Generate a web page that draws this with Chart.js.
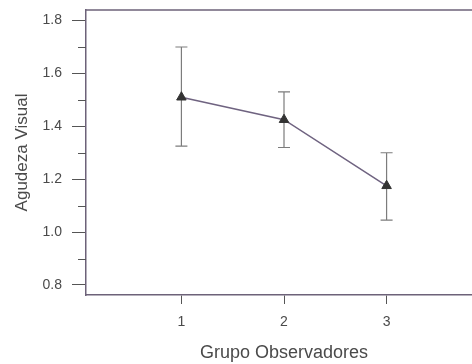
<!DOCTYPE html>
<html>
<head>
<meta charset="utf-8">
<script src="https://cdn.jsdelivr.net/npm/chart.js@4.4.1/dist/chart.umd.min.js"></script>
<style>
  html, body { margin: 0; background: #fff; overflow: hidden; }
  /* o gráfico original continua um pouco além da margem direita */
  #chart { display: block; }
</style>
</head>
<body>
<canvas id="chart" width="482" height="364"></canvas>
<script>
// dados
const grupos = [1, 2, 3];
const media = [1.51, 1.425, 1.175];
const erroSup = [1.70, 1.53, 1.30];
const erroInf = [1.325, 1.32, 1.045];
const xTicks = [1, 2, 3];
const yTicks = [0.8, 1.0, 1.2, 1.4, 1.6, 1.8];
const yMinor = [0.9, 1.1, 1.3, 1.5, 1.7];

const corEixo = '#6d6279';
const corTexto = '#4a4a4a';
const fonte = '"Liberation Sans", Arial, sans-serif';

// barras de erro desenhadas atrás dos marcadores
const barrasErro = {
  id: 'barrasErro',
  beforeDatasetsDraw(chart) {
    const { ctx, scales: { x, y } } = chart;
    ctx.save();
    ctx.strokeStyle = '#7c7c7c';
    ctx.lineWidth = 1.2;
    grupos.forEach((g, i) => {
      const px = x.getPixelForValue(g);
      const top = y.getPixelForValue(erroSup[i]);
      const bot = y.getPixelForValue(erroInf[i]);
      ctx.beginPath();
      ctx.moveTo(px, top); ctx.lineTo(px, bot);
      ctx.moveTo(px - 6, top); ctx.lineTo(px + 6, top);
      ctx.moveTo(px - 6, bot); ctx.lineTo(px + 6, bot);
      ctx.stroke();
    });
    ctx.restore();
  }
};

// linha superior e ticks menores do eixo y
const moldura = {
  id: 'moldura',
  afterDraw(chart) {
    const { ctx, chartArea: a, scales: { y } } = chart;
    ctx.save();
    ctx.strokeStyle = corEixo;
    ctx.lineWidth = 1.5;
    ctx.beginPath();
    ctx.moveTo(a.left, a.top);
    ctx.lineTo(a.right, a.top);
    ctx.stroke();
    ctx.strokeStyle = '#555';
    ctx.lineWidth = 1;
    yMinor.forEach(v => {
      const py = Math.round(y.getPixelForValue(v)) + 0.5;
      ctx.beginPath();
      ctx.moveTo(a.left - 8, py);
      ctx.lineTo(a.left, py);
      ctx.stroke();
    });
    ctx.restore();
  }
};

const ctx = document.getElementById('chart').getContext('2d');
new Chart(ctx, {
  type: 'line',
  data: {
    datasets: [{
      data: grupos.map((g, i) => ({ x: g, y: media[i] })),
      borderColor: '#6f6380',
      borderWidth: 1.5,
      pointStyle: 'triangle',
      pointRadius: 5.5,
      pointBackgroundColor: '#333',
      pointBorderColor: '#333',
      pointBorderWidth: 1
    }]
  },
  options: {
    responsive: false,
    animation: false,
    layout: { autoPadding: false, padding: { top: 10, right: 0, left: 0, bottom: 0 } },
    plugins: {
      legend: { display: false },
      tooltip: { enabled: false }
    },
    scales: {
      x: {
        type: 'linear',
        min: 0.07,
        max: 3.93,
        afterBuildTicks: s => { s.ticks = xTicks.map(v => ({ value: v })); },
        afterFit: s => { s.height = 69; s.paddingLeft = 0; s.paddingRight = 0; },
        grid: { drawOnChartArea: false, tickLength: 9, tickColor: '#555' },
        border: { color: corEixo, width: 1.5 },
        ticks: { color: corTexto, padding: 10, font: { family: fonte, size: 14 } },
        title: {
          display: true,
          text: 'Grupo Observadores',
          color: corTexto,
          padding: { top: 0, bottom: 0 },
          font: { family: fonte, size: 18 }
        }
      },
      y: {
        min: 0.762,
        max: 1.84,
        afterBuildTicks: s => { s.ticks = yTicks.map(v => ({ value: v })); },
        afterFit: s => { s.width = 86; s.paddingTop = 0; s.paddingBottom = 0; },
        grid: { drawOnChartArea: false, tickLength: 14, tickColor: '#555' },
        border: { color: corEixo, width: 1.5 },
        ticks: {
          color: corTexto,
          padding: 10,
          font: { family: fonte, size: 14 },
          callback: v => v.toFixed(1)
        },
        title: {
          display: true,
          text: 'Agudeza Visual',
          color: corTexto,
          padding: { top: 12, bottom: 0 },
          font: { family: fonte, size: 17 }
        }
      }
    }
  },
  plugins: [barrasErro, moldura]
});
</script>
</body>
</html>
